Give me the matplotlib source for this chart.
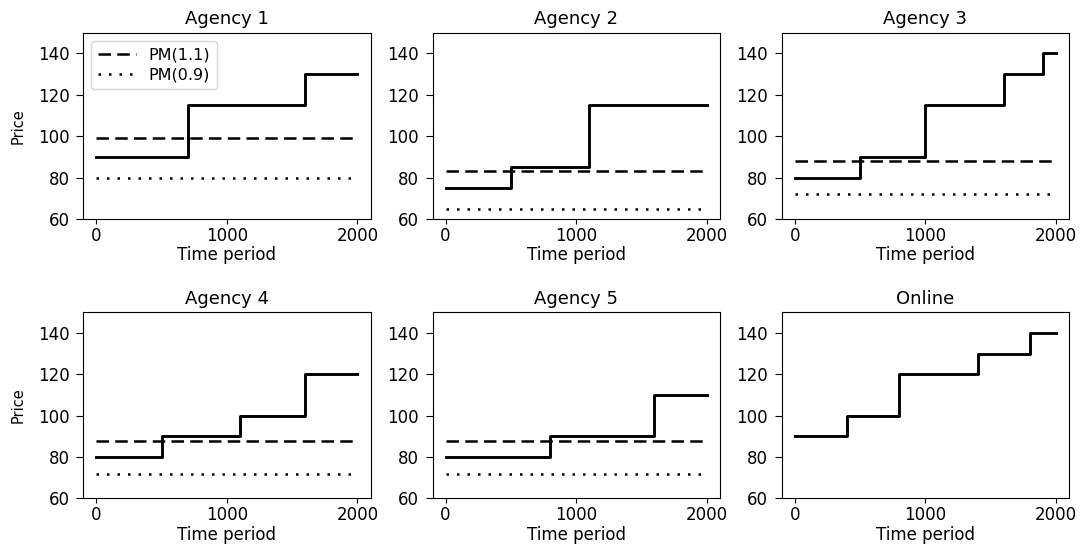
import matplotlib
matplotlib.use("Agg")
import matplotlib.pyplot as plt

# change points (time) and price levels for each panel
titles = ["Agency 1", "Agency 2", "Agency 3", "Agency 4", "Agency 5", "Online"]
change_times = [
    [0, 700, 1600, 2000],
    [0, 500, 1100, 2000],
    [0, 500, 1000, 1600, 1900, 2000],
    [0, 500, 1100, 1600, 2000],
    [0, 800, 1600, 2000],
    [0, 400, 800, 1400, 1800, 2000],
]
price_levels = [
    [90, 115, 130, 130],
    [75, 85, 115, 115],
    [80, 90, 115, 130, 140, 140],
    [80, 90, 100, 120, 120],
    [80, 90, 110, 110],
    [90, 100, 120, 130, 140, 140],
]
pm_high = [99, 83, 88, 88, 88, None]
pm_low = [80, 65, 72, 72, 72, None]
horizon = [0, 2000]

fig, axes = plt.subplots(2, 3, figsize=(10.82, 5.46), dpi=100)
fig.subplots_adjust(left=0.077, right=0.988, top=0.94, bottom=0.087,
                    wspace=0.216, hspace=0.5)

for i, ax in enumerate(axes.flat):
    ax.plot(change_times[i], price_levels[i], drawstyle="steps-post",
            color="black", lw=2.1)
    if pm_high[i] is not None:
        ax.plot(horizon, [pm_high[i]] * 2, color="black", lw=1.8,
                linestyle=(0, (5, 2.5)), label="PM(1.1)")
        ax.plot(horizon, [pm_low[i]] * 2, color="black", lw=1.8,
                linestyle=(0, (1, 3.2)), label="PM(0.9)")
    ax.set_ylim(60, 150)
    ax.set_yticks([60, 80, 100, 120, 140])
    ax.set_xticks([0, 1000, 2000])
    ax.tick_params(labelsize=12)
    ax.tick_params(axis="x", pad=2)
    ax.tick_params(axis="y", length=5, pad=5)
    ax.set_title(titles[i], fontsize=13)
    ax.set_xlabel("Time period", fontsize=12, labelpad=1)
    if i % 3 == 0:
        ax.set_ylabel("Price", fontsize=10.5, labelpad=9)
    if i == 0:
        ax.legend(loc="upper left", fontsize=11.5, handlelength=2.4,
                  labelspacing=0.35)

fig.savefig("out.png", dpi=100)
